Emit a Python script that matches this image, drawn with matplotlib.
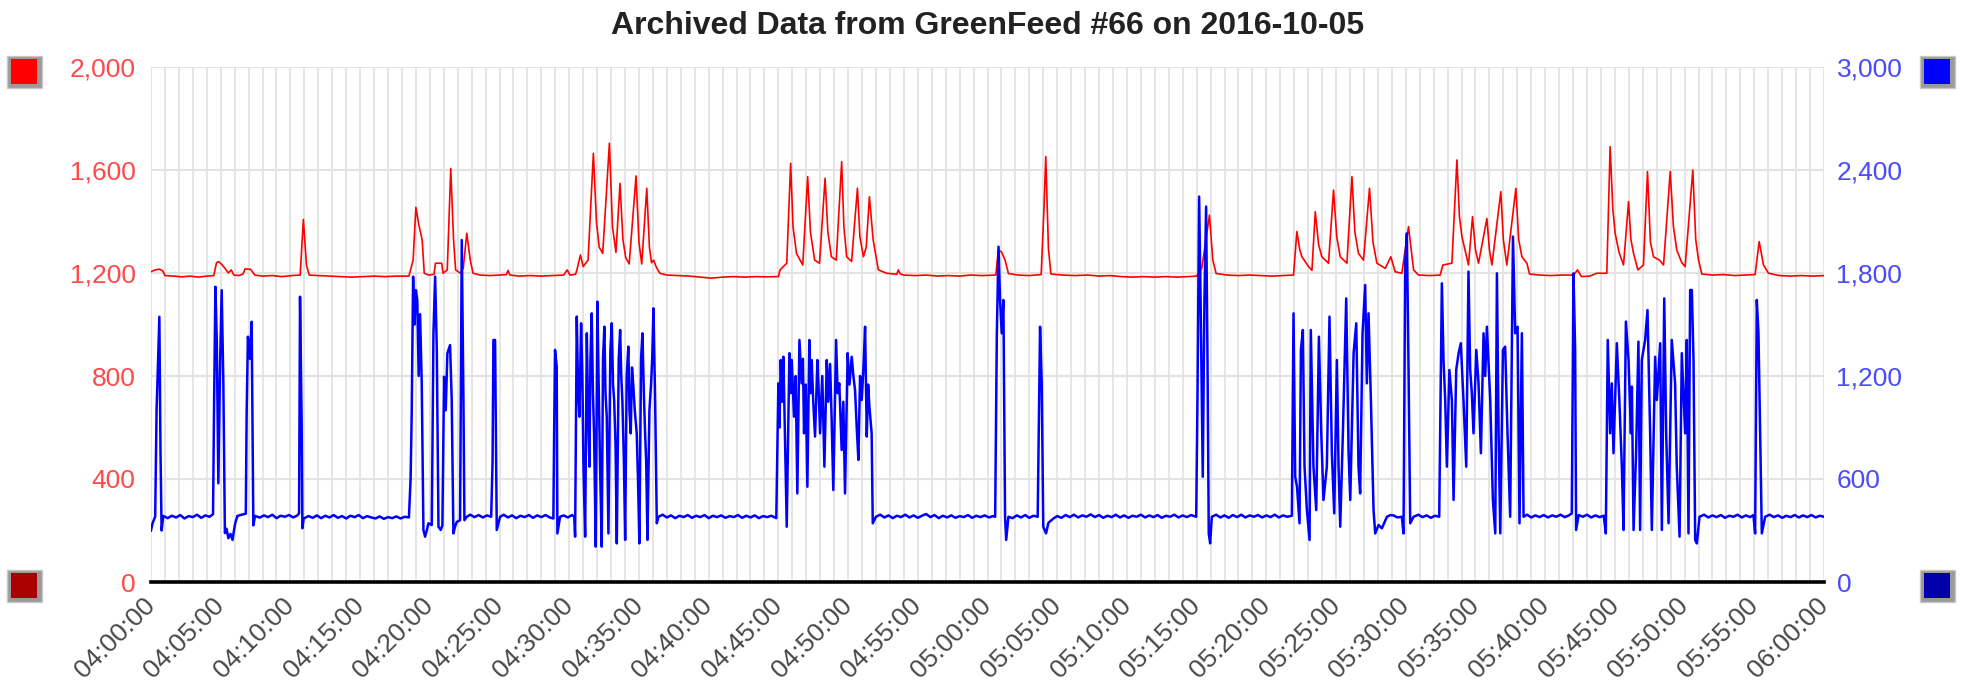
import matplotlib
matplotlib.use("Agg")
import matplotlib.pyplot as plt
from matplotlib import font_manager
from matplotlib.patches import Rectangle
import numpy as np

plt.rcParams['font.family'] = ['Liberation Sans', 'DejaVu Sans']

title = "Archived Data from GreenFeed #66 on 2016-10-05"

# x positions are minutes after 04:00:00
time_labels = ["04:00:00", "04:05:00", "04:10:00", "04:15:00", "04:20:00",
               "04:25:00", "04:30:00", "04:35:00", "04:40:00", "04:45:00",
               "04:50:00", "04:55:00", "05:00:00", "05:05:00", "05:10:00",
               "05:15:00", "05:20:00", "05:25:00", "05:30:00", "05:35:00",
               "05:40:00", "05:45:00", "05:50:00", "05:55:00", "06:00:00"]
left_ticks = [0, 400, 800, 1200, 1600, 2000]
right_ticks = [0, 600, 1200, 1800, 2400, 3000]

# red series (left axis), (minute, value)
red_points = [
    (0.0, 1205), (0.3, 1212), (0.6, 1215), (0.85, 1208), (1.0, 1190),
    (1.6, 1188), (2.2, 1185), (2.8, 1188), (3.4, 1184), (4.0, 1188),
    (4.5, 1190), (4.7, 1240), (4.85, 1244), (5.1, 1232), (5.35, 1215),
    (5.55, 1200), (5.75, 1212), (5.95, 1192), (6.3, 1190), (6.6, 1196),
    (6.75, 1216), (7.15, 1214), (7.45, 1192), (8.0, 1188), (8.7, 1190),
    (9.4, 1186), (10.1, 1190), (10.7, 1192), (10.93, 1408), (11.15, 1230),
    (11.35, 1192), (12.0, 1190), (12.8, 1188), (13.6, 1186), (14.4, 1184),
    (15.2, 1186), (16.0, 1188), (16.8, 1186), (17.6, 1188), (18.5, 1188),
    (18.8, 1250), (19.0, 1455), (19.2, 1390), (19.45, 1328), (19.6, 1199),
    (19.9, 1192), (20.3, 1195), (20.4, 1238), (20.85, 1238), (20.95, 1199),
    (21.25, 1212), (21.5, 1606), (21.7, 1330), (21.85, 1212), (22.2, 1199),
    (22.4, 1220), (22.65, 1354), (22.9, 1250), (23.1, 1199), (23.6, 1192),
    (24.3, 1190), (25.0, 1192), (25.5, 1194), (25.6, 1210), (25.75, 1192),
    (26.4, 1188), (27.2, 1190), (28.0, 1188), (28.8, 1190), (29.6, 1192),
    (29.85, 1212), (30.05, 1192), (30.45, 1195), (30.55, 1212), (30.8, 1270),
    (31.0, 1225), (31.35, 1250), (31.73, 1665), (31.95, 1400), (32.15, 1300),
    (32.4, 1276), (32.88, 1704), (33.1, 1380), (33.35, 1280), (33.64, 1548),
    (33.85, 1330), (34.05, 1260), (34.3, 1235), (34.79, 1577), (35.0, 1320),
    (35.2, 1235), (35.56, 1529), (35.75, 1300), (35.9, 1240), (36.05, 1250),
    (36.25, 1222), (36.5, 1199), (37.0, 1192), (37.8, 1190), (38.6, 1188),
    (39.4, 1184), (40.2, 1180), (41.0, 1184), (41.8, 1186), (42.6, 1184),
    (43.4, 1186), (44.2, 1185), (45.0, 1186), (45.12, 1212), (45.6, 1238),
    (45.88, 1626), (46.05, 1380), (46.3, 1276), (46.75, 1231), (47.1, 1574),
    (47.3, 1360), (47.6, 1250), (47.95, 1238), (48.35, 1568), (48.55, 1360),
    (48.8, 1263), (49.15, 1250), (49.54, 1632), (49.7, 1380), (49.9, 1263),
    (50.25, 1245), (50.67, 1529), (50.85, 1340), (51.1, 1263), (51.3, 1300),
    (51.53, 1496), (51.8, 1328), (52.17, 1212), (52.77, 1199), (53.5, 1195),
    (53.6, 1212), (53.75, 1196), (54.0, 1192), (54.8, 1190), (55.6, 1192),
    (56.4, 1188), (57.2, 1190), (58.0, 1188), (58.8, 1192), (59.6, 1190),
    (60.6, 1192), (60.7, 1250), (60.79, 1289), (61.0, 1282), (61.26, 1250),
    (61.5, 1198), (62.2, 1192), (63.0, 1190), (63.85, 1194), (64.05, 1450),
    (64.18, 1652), (64.37, 1295), (64.55, 1196), (65.4, 1192), (66.3, 1190),
    (67.2, 1192), (68.0, 1188), (68.8, 1190), (69.6, 1186), (70.4, 1184),
    (71.2, 1186), (72.0, 1184), (72.8, 1186), (73.6, 1184), (74.4, 1186),
    (75.0, 1188), (75.37, 1218), (75.61, 1308), (75.92, 1425), (76.16, 1250),
    (76.4, 1198), (77.2, 1192), (78.0, 1190), (78.8, 1192), (79.6, 1190),
    (80.4, 1188), (81.2, 1190), (81.95, 1192), (82.19, 1361), (82.4, 1290),
    (82.55, 1263), (83.03, 1225), (83.27, 1210), (83.51, 1438), (83.75, 1310),
    (83.98, 1263), (84.46, 1238), (84.82, 1522), (85.05, 1340), (85.3, 1263),
    (85.78, 1238), (86.14, 1574), (86.35, 1360), (86.61, 1276), (86.97, 1250),
    (87.4, 1529), (87.65, 1320), (87.93, 1238), (88.53, 1218), (88.93, 1263),
    (89.24, 1205), (89.72, 1199), (90.2, 1380), (90.56, 1212), (90.92, 1192),
    (91.7, 1190), (92.47, 1192), (92.66, 1231), (93.31, 1238), (93.67, 1639),
    (93.85, 1420), (94.03, 1341), (94.5, 1231), (94.79, 1419), (95.0, 1290),
    (95.22, 1238), (95.82, 1412), (96.0, 1290), (96.18, 1231), (96.82, 1516),
    (97.0, 1330), (97.25, 1231), (97.9, 1529), (98.1, 1330), (98.33, 1263),
    (98.69, 1238), (98.88, 1196), (99.6, 1192), (100.4, 1190), (101.2, 1192),
    (102.03, 1192), (102.32, 1212), (102.6, 1186), (103.2, 1188), (103.7, 1199),
    (104.42, 1199), (104.66, 1691), (104.85, 1450), (105.02, 1354), (105.3, 1280),
    (105.62, 1231), (105.98, 1477), (106.15, 1330), (106.34, 1276), (106.65, 1212),
    (107.05, 1231), (107.34, 1594), (107.55, 1320), (107.77, 1263), (108.2, 1250),
    (108.49, 1231), (108.97, 1594), (109.2, 1380), (109.44, 1289), (109.8, 1240),
    (110.04, 1225), (110.59, 1600), (110.8, 1330), (111.0, 1250), (111.24, 1196),
    (112.0, 1192), (112.8, 1194), (113.6, 1190), (114.4, 1192), (115.06, 1194),
    (115.35, 1322), (115.66, 1231), (116.02, 1199), (116.8, 1190), (117.6, 1188),
    (118.4, 1190), (119.2, 1188), (120.0, 1190),
]

# blue series (right axis), (minute, value)
blue_points = [
    (0.0, 300), (0.12, 345), (0.3, 380), (0.4, 1000), (0.5, 1280), (0.6, 1545),
    (0.68, 770), (0.76, 300), (0.88, 385), (1.2, 372), (1.5, 386), (1.8, 376),
    (2.1, 390), (2.4, 370), (2.7, 384), (3.0, 378), (3.3, 392), (3.6, 374),
    (3.9, 388), (4.2, 380), (4.45, 395), (4.52, 1000), (4.62, 1720), (4.72, 1400),
    (4.83, 575), (4.95, 1250), (5.07, 1700), (5.19, 1157), (5.3, 285), (5.42, 310),
    (5.55, 255), (5.7, 280), (5.85, 245), (5.95, 300), (6.05, 345), (6.2, 385),
    (6.5, 392), (6.8, 398), (6.86, 980), (6.95, 1429), (7.1, 1300), (7.22, 1516),
    (7.34, 330), (7.46, 385), (7.8, 375), (8.1, 388), (8.4, 378), (8.7, 392),
    (9.0, 372), (9.3, 386), (9.6, 380), (9.9, 390), (10.2, 376), (10.5, 388),
    (10.62, 400), (10.69, 1662), (10.81, 900), (10.86, 313), (10.95, 370),
    (11.3, 384), (11.6, 374), (11.9, 388), (12.2, 372), (12.5, 386), (12.8, 376),
    (13.1, 390), (13.4, 374), (13.7, 384), (14.0, 370), (14.3, 386), (14.6, 378),
    (14.9, 390), (15.2, 372), (15.5, 384), (15.8, 376), (16.1, 370), (16.4, 382),
    (16.7, 368), (17.0, 378), (17.3, 372), (17.6, 382), (17.9, 370), (18.2, 380),
    (18.5, 376), (18.62, 600), (18.7, 983), (18.8, 1779), (18.9, 1500), (19.0, 1700),
    (19.1, 1643), (19.2, 1200), (19.3, 1560), (19.42, 1157), (19.54, 303),
    (19.66, 264), (19.78, 300), (19.9, 342), (20.14, 332), (20.26, 1449),
    (20.38, 1779), (20.5, 1351), (20.62, 322), (20.78, 303), (20.9, 330),
    (21.02, 1196), (21.14, 1000), (21.26, 1333), (21.45, 1380), (21.57, 1060),
    (21.69, 283), (21.8, 320), (21.93, 350), (22.17, 360), (22.29, 1992),
    (22.41, 1060), (22.48, 360), (22.65, 380), (22.9, 392), (23.2, 378),
    (23.5, 390), (23.8, 376), (24.1, 388), (24.4, 380), (24.5, 700), (24.56, 1410),
    (24.68, 1410), (24.8, 303), (25.04, 380), (25.3, 392), (25.6, 376), (25.9, 388),
    (26.2, 372), (26.5, 386), (26.8, 378), (27.1, 390), (27.4, 374), (27.7, 388),
    (28.0, 378), (28.3, 390), (28.6, 376), (28.86, 370), (28.92, 900), (28.98, 1352),
    (29.1, 1254), (29.15, 283), (29.34, 380), (29.6, 388), (29.9, 376), (30.2, 390),
    (30.36, 380), (30.42, 264), (30.54, 1546), (30.64, 1100), (30.73, 963),
    (30.85, 1507), (30.94, 1200), (31.02, 672), (31.14, 264), (31.26, 1449),
    (31.35, 1000), (31.45, 672), (31.52, 1300), (31.61, 1565), (31.7, 1100),
    (31.78, 866), (31.9, 206), (32.02, 1633), (32.1, 1200), (32.21, 672),
    (32.33, 206), (32.42, 1300), (32.52, 1487), (32.6, 1100), (32.69, 963),
    (32.81, 283), (32.95, 1350), (33.05, 1507), (33.14, 1150), (33.22, 1060),
    (33.32, 800), (33.41, 225), (33.55, 1300), (33.65, 1468), (33.73, 1200),
    (33.81, 1060), (33.92, 700), (34.01, 245), (34.12, 1200), (34.24, 1371),
    (34.32, 1000), (34.41, 866), (34.5, 1250), (34.6, 1138), (34.7, 1000),
    (34.84, 866), (34.93, 600), (35.03, 225), (35.15, 1300), (35.25, 1449),
    (35.35, 1100), (35.44, 866), (35.52, 700), (35.61, 245), (35.75, 1000),
    (35.87, 1157), (35.95, 1300), (36.04, 1594), (36.16, 1060), (36.28, 342),
    (36.4, 380), (36.7, 392), (37.0, 376), (37.3, 388), (37.6, 372), (37.9, 386),
    (38.2, 378), (38.5, 390), (38.8, 374), (39.1, 386), (39.4, 378), (39.7, 390),
    (40.0, 372), (40.3, 386), (40.6, 378), (40.9, 388), (41.2, 374), (41.5, 384),
    (41.8, 378), (42.1, 390), (42.4, 374), (42.7, 386), (43.0, 376), (43.3, 388),
    (43.6, 372), (43.9, 384), (44.2, 378), (44.5, 386), (44.85, 372),
    (45.0, 1157), (45.08, 900), (45.17, 1293), (45.26, 1050), (45.36, 1312),
    (45.6, 322), (45.79, 1333), (45.88, 1100), (45.96, 1293), (46.12, 963),
    (46.24, 1200), (46.36, 516), (46.51, 1410), (46.67, 1157), (46.76, 1300),
    (46.84, 866), (46.96, 1150), (47.08, 555), (47.22, 1410), (47.3, 1100),
    (47.39, 1293), (47.5, 1050), (47.63, 847), (47.8, 1293), (47.9, 1100),
    (47.99, 866), (48.15, 1200), (48.3, 672), (48.47, 1293), (48.58, 1050),
    (48.71, 1270), (48.82, 950), (48.94, 536), (49.14, 1410), (49.25, 1100),
    (49.37, 1157), (49.54, 769), (49.66, 1050), (49.78, 516), (49.97, 1333),
    (50.1, 1150), (50.26, 1312), (50.38, 1200), (50.5, 1118), (50.62, 900),
    (50.74, 711), (50.86, 1200), (50.98, 1060), (51.1, 1250), (51.22, 1487),
    (51.34, 847), (51.44, 1150), (51.53, 1021), (51.69, 866), (51.77, 342),
    (52.0, 380), (52.3, 392), (52.6, 376), (52.9, 388), (53.2, 372), (53.5, 386),
    (53.8, 378), (54.1, 392), (54.4, 376), (54.7, 388), (55.0, 374), (55.3, 386),
    (55.6, 396), (55.9, 378), (56.2, 390), (56.5, 372), (56.8, 386), (57.1, 376),
    (57.4, 388), (57.7, 374), (58.0, 384), (58.3, 378), (58.6, 390), (58.9, 374),
    (59.2, 386), (59.5, 378), (59.8, 388), (60.1, 376), (60.4, 384), (60.55, 380),
    (60.67, 1449), (60.79, 1953), (60.9, 1643), (61.02, 1449), (61.14, 1643),
    (61.26, 380), (61.34, 245), (61.5, 380), (61.8, 372), (62.1, 388), (62.4, 376),
    (62.7, 390), (63.0, 374), (63.3, 386), (63.6, 380), (63.77, 1487), (63.89, 1157),
    (64.0, 322), (64.2, 283), (64.37, 345), (64.73, 370), (65.0, 384), (65.3, 374),
    (65.6, 390), (65.9, 378), (66.2, 392), (66.5, 376), (66.8, 388), (67.1, 380),
    (67.4, 394), (67.7, 378), (68.0, 390), (68.3, 374), (68.6, 386), (68.9, 378),
    (69.2, 392), (69.5, 376), (69.8, 388), (70.1, 374), (70.4, 386), (70.7, 380),
    (71.0, 392), (71.3, 376), (71.6, 388), (71.9, 378), (72.2, 390), (72.5, 374),
    (72.8, 386), (73.1, 380), (73.4, 392), (73.7, 376), (74.0, 388), (74.3, 378),
    (74.6, 390), (74.97, 380), (75.06, 1060), (75.18, 2245), (75.3, 1546),
    (75.44, 613), (75.56, 1643), (75.68, 2187), (75.78, 1300), (75.87, 283),
    (75.97, 225), (76.09, 380), (76.4, 392), (76.7, 376), (77.0, 388), (77.3, 374),
    (77.6, 390), (77.9, 378), (78.2, 392), (78.5, 376), (78.8, 388), (79.1, 380),
    (79.4, 390), (79.7, 376), (80.0, 388), (80.3, 378), (80.6, 392), (80.9, 376),
    (81.2, 388), (81.5, 380), (81.83, 386), (81.95, 1565), (82.07, 613),
    (82.2, 555), (82.38, 342), (82.48, 1352), (82.62, 1468), (82.74, 672),
    (82.91, 419), (83.1, 245), (83.19, 1468), (83.38, 672), (83.58, 419),
    (83.77, 1429), (83.94, 866), (84.1, 478), (84.34, 672), (84.53, 1546),
    (84.7, 750), (84.87, 400), (85.06, 1293), (85.18, 672), (85.3, 322),
    (85.49, 866), (85.73, 1652), (85.9, 750), (86.02, 478), (86.26, 1333),
    (86.45, 1507), (86.61, 672), (86.73, 516), (86.9, 1449), (87.09, 1730),
    (87.21, 1157), (87.33, 1565), (87.5, 1060), (87.69, 419), (87.81, 283),
    (88.05, 332), (88.29, 313), (88.65, 380), (88.9, 390), (89.12, 388),
    (89.4, 376), (89.72, 380), (89.84, 283), (89.96, 1856), (90.08, 2031),
    (90.2, 1239), (90.32, 342), (90.56, 380), (90.9, 392), (91.2, 378), (91.5, 388),
    (91.8, 374), (92.1, 386), (92.4, 380), (92.59, 1740), (92.71, 1293),
    (92.83, 1060), (92.95, 672), (93.13, 1235), (93.31, 1060), (93.43, 478),
    (93.62, 1235), (93.79, 1333), (93.95, 1391), (94.14, 1060), (94.34, 672),
    (94.5, 1808), (94.62, 1239), (94.74, 1100), (94.86, 866), (95.06, 1352),
    (95.22, 1157), (95.39, 750), (95.58, 1449), (95.7, 1200), (95.82, 1487),
    (96.06, 1060), (96.25, 478), (96.42, 283), (96.54, 1798), (96.66, 866),
    (96.78, 283), (96.97, 1352), (97.13, 1371), (97.3, 866), (97.49, 380),
    (97.69, 2012), (97.85, 1449), (98.02, 1487), (98.16, 342), (98.33, 1449),
    (98.45, 380), (98.7, 392), (99.0, 376), (99.3, 388), (99.6, 378), (99.9, 390),
    (100.2, 376), (100.5, 388), (100.8, 380), (101.1, 392), (101.4, 378),
    (101.7, 388), (101.91, 400), (102.03, 1798), (102.15, 1352), (102.22, 303),
    (102.4, 390), (102.7, 380), (103.0, 392), (103.3, 376), (103.6, 388),
    (103.9, 378), (104.2, 386), (104.35, 283), (104.49, 1410), (104.66, 866),
    (104.78, 1157), (104.9, 750), (105.14, 1391), (105.32, 1060), (105.5, 672),
    (105.62, 303), (105.79, 1517), (105.98, 1293), (106.15, 866), (106.22, 1138),
    (106.34, 303), (106.52, 750), (106.69, 1400), (106.81, 303), (106.93, 1293),
    (107.17, 1410), (107.34, 1584), (107.53, 866), (107.65, 303), (107.89, 1312),
    (108.01, 1060), (108.25, 1391), (108.37, 303), (108.54, 1652), (108.68, 866),
    (108.85, 342), (109.08, 1410), (109.32, 1157), (109.44, 672), (109.64, 264),
    (109.8, 1333), (110.04, 866), (110.16, 1410), (110.28, 283), (110.4, 1701),
    (110.52, 1701), (110.64, 1293), (110.76, 245), (110.88, 225), (111.07, 380),
    (111.4, 392), (111.7, 376), (112.0, 388), (112.3, 378), (112.6, 390),
    (112.9, 374), (113.2, 386), (113.5, 380), (113.8, 392), (114.1, 376),
    (114.4, 388), (114.7, 378), (114.94, 390), (115.06, 283), (115.18, 1643),
    (115.3, 1449), (115.42, 866), (115.54, 283), (115.78, 380), (116.1, 392),
    (116.4, 378), (116.7, 388), (117.0, 374), (117.3, 386), (117.6, 378),
    (117.9, 390), (118.2, 376), (118.5, 388), (118.8, 378), (119.1, 390),
    (119.4, 376), (119.7, 386), (120.0, 380),
]

red_t, red_v = np.array(red_points).T
blue_t, blue_v = np.array(blue_points).T

W, H = 1966, 693
fig = plt.figure(figsize=(W / 100, H / 100), dpi=100)
ax = fig.add_axes([151 / W, 1 - 582 / H, (1824 - 151) / W, (582 - 67) / H])
ax2 = ax.twinx()

grid_c = '#e3e3e3'
ax.set_xlim(0, 120)
ax.set_ylim(0, 2000)
ax2.set_ylim(0, 3000)
ax.set_xticks(np.arange(0, 121, 5))
ax.set_xticks(np.arange(0, 121, 1), minor=True)
ax.set_xticklabels(time_labels, rotation=45, ha='right', va='center',
                   rotation_mode='anchor', fontsize=19, color='#484848')
ax.set_yticks(left_ticks)
ax.set_yticklabels([f"{v:,}" for v in left_ticks], fontsize=19, color='#ff4a4a')
ax2.set_yticks(right_ticks)
ax2.set_yticklabels([f"{v:,}" for v in right_ticks], fontsize=19, color='#4a4aff')
ax.grid(which='both', axis='x', color=grid_c, lw=1.3)
ax.grid(which='major', axis='y', color=grid_c, lw=1.5)
ax.set_axisbelow(True)
ax.tick_params(axis='x', which='both', length=0, pad=14)
ax.tick_params(axis='y', length=0, pad=11)
ax2.tick_params(axis='y', length=0, pad=9)
for s in ['top', 'left', 'right']:
    ax.spines[s].set_visible(False)
    ax2.spines[s].set_visible(False)
ax2.spines['bottom'].set_visible(False)
ax.spines['bottom'].set_color('black')
ax.spines['bottom'].set_linewidth(2.6)
ax.spines['bottom'].set_zorder(10)

ax.plot(red_t, red_v, color='#ff0000', lw=1.2)
ax2.plot(blue_t, blue_v, color='#0000ff', lw=1.8)

# title font is a condensed bold face; use the narrow one when installed
names = {f.name for f in font_manager.fontManager.ttflist}
if 'Liberation Sans Narrow' in names:
    title_family, title_size = ['Liberation Sans Narrow'], 27
else:
    title_family, title_size = ['Liberation Sans'], 23
fig.text((151 + 1824) / 2 / W, 1 - 26 / H, title, ha='center', va='center',
         fontsize=title_size, fontweight='bold', color='#222222',
         family=title_family)

# the little coloured buttons at the axis corners
buttons = [(7, 56, '#ff0000'), (7, 570, '#aa0000'),
           (1920, 56, '#0000ff'), (1920, 570, '#0000aa')]
for bx, by, c in buttons:
    fig.add_artist(Rectangle((bx / W, 1 - (by + 32) / H), 35 / W, 32 / H,
                             transform=fig.transFigure, facecolor='#9a9a9a',
                             edgecolor='#c8c8c8', lw=1))
    fig.add_artist(Rectangle(((bx + 4) / W, 1 - (by + 28) / H), 26 / W, 25 / H,
                             transform=fig.transFigure, facecolor=c,
                             edgecolor='none'))

fig.savefig('out.png', dpi=100)
